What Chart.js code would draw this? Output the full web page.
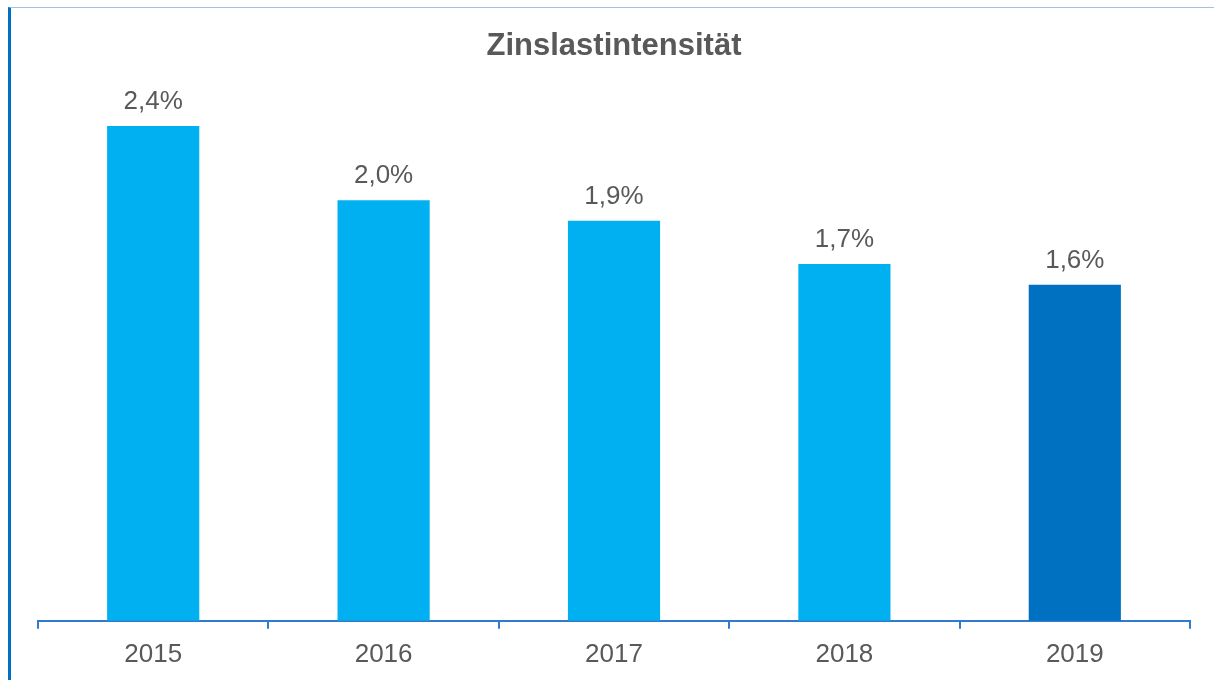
<!DOCTYPE html>
<html lang="de">
<head>
<meta charset="UTF-8">
<title>Zinslastintensität</title>
<script src="https://cdn.jsdelivr.net/npm/chart.js@4.4.1/dist/chart.umd.min.js"></script>
<style>
  body { margin: 0; background: #fff; }
  #wrap { position: relative; width: 1214px; height: 680px; }
  #frame {
    position: absolute; left: 8px; top: 7px; right: 0; bottom: 0;
    border-left: 3px solid #0070C0; border-top: 1px solid #9DC3E6;
    pointer-events: none;
  }
</style>
</head>
<body>
<div id="wrap">
  <canvas id="chart" width="1214" height="680"></canvas>
  <div id="frame"></div>
</div>
<script>
const years = ['2015', '2016', '2017', '2018', '2019'];
const values = [2.40, 2.04, 1.94, 1.73, 1.63];
const barColors = ['#00B0F0', '#00B0F0', '#00B0F0', '#00B0F0', '#0070C0'];

const textGrey = '#595959';
const axisBlue = '#2E7BCF';

// value labels above the bars, German decimal comma
const valueLabels = {
  id: 'valueLabels',
  afterDatasetsDraw(chart) {
    const ctx = chart.ctx;
    const meta = chart.getDatasetMeta(0);
    ctx.save();
    ctx.font = '26px "Liberation Sans", Arial, sans-serif';
    ctx.fillStyle = textGrey;
    ctx.textAlign = 'center';
    ctx.textBaseline = 'alphabetic';
    meta.data.forEach((bar, i) => {
      const txt = values[i].toFixed(1).replace('.', ',') + '%';
      ctx.fillText(txt, bar.x, bar.y - 17);
    });
    ctx.restore();
  }
};

new Chart(document.getElementById('chart'), {
  type: 'bar',
  data: {
    labels: years,
    datasets: [{
      data: values,
      backgroundColor: barColors,
      barPercentage: 0.8,
      categoryPercentage: 0.5
    }]
  },
  options: {
    responsive: false,
    animation: false,
    layout: { padding: { left: 38, right: 24, top: 0, bottom: 0 } },
    plugins: {
      legend: { display: false },
      tooltip: { enabled: false },
      title: {
        display: true,
        text: 'Zinslastintensität',
        color: textGrey,
        font: { family: '"Liberation Sans", Arial, sans-serif', size: 31, weight: 'bold' },
        padding: { top: 28, bottom: 35 }
      }
    },
    scales: {
      x: {
        grid: {
          offset: true,
          drawOnChartArea: false,
          drawTicks: true,
          tickLength: 8,
          color: axisBlue,
          lineWidth: 2
        },
        border: { color: axisBlue, width: 2 },
        ticks: {
          color: textGrey,
          padding: 10,
          font: { family: '"Liberation Sans", Arial, sans-serif', size: 26 }
        }
      },
      y: {
        display: false,
        min: 0,
        max: 2.525
      }
    }
  },
  plugins: [valueLabels]
});
</script>
</body>
</html>
